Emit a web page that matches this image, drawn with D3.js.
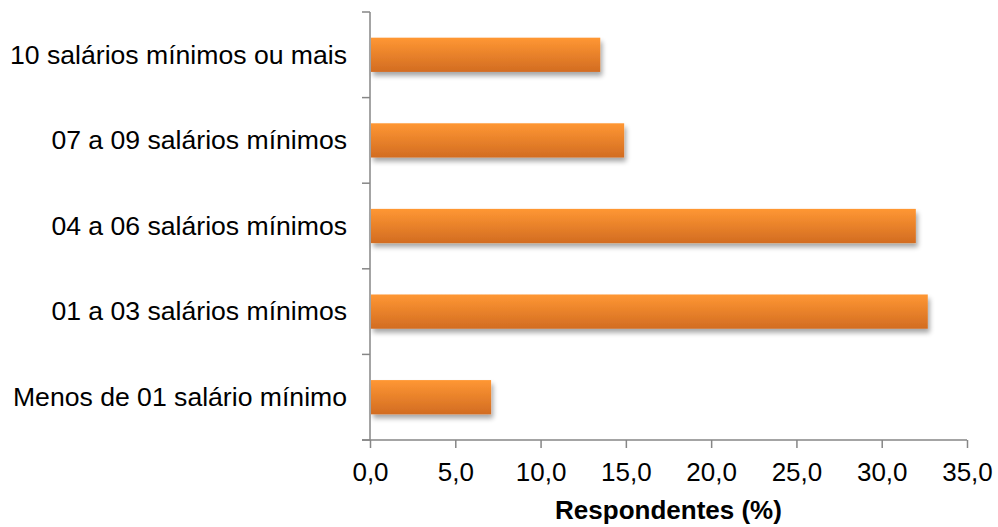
<!DOCTYPE html>
<html>
<head>
<meta charset="utf-8">
<script src="https://cdn.jsdelivr.net/npm/d3@7"></script>
<style>
  body { margin: 0; background: #fff; }
  svg { display: block; }
  text { font-family: "Liberation Sans", Arial, sans-serif; fill: #000; }
</style>
</head>
<body>
<svg id="chart" width="998" height="527"></svg>
<script>
// Income bands, top to bottom
const categories = [
  "10 salários mínimos ou mais",
  "07 a 09 salários mínimos",
  "04 a 06 salários mínimos",
  "01 a 03 salários mínimos",
  "Menos de 01 salário mínimo"
];
const values = [13.5, 14.9, 32.0, 32.7, 7.1];
const xTicks = [0, 5, 10, 15, 20, 25, 30, 35];
const xTitle = "Respondentes (%)";

const svg = d3.select("#chart");
const margin = { left: 370, right: 31, top: 12, bottom: 87 };
const W = 998, H = 527;
const fontSize = "26px";

const x = d3.scaleLinear().domain([0, 35]).range([margin.left, W - margin.right]);
const y = d3.scaleBand().domain(categories)
  .range([margin.top, H - margin.bottom]).paddingInner(0.6).paddingOuter(0.3);

const defs = svg.append("defs");
const grad = defs.append("linearGradient").attr("id", "barGrad")
  .attr("x1", 0).attr("y1", 0).attr("x2", 0).attr("y2", 1);
grad.append("stop").attr("offset", "0%").attr("stop-color", "#ff9733");
grad.append("stop").attr("offset", "100%").attr("stop-color", "#d26c22");

const shadow = defs.append("filter").attr("id", "shadow")
  .attr("x", "-10%").attr("y", "-30%").attr("width", "130%").attr("height", "180%");
shadow.append("feGaussianBlur").attr("in", "SourceAlpha").attr("stdDeviation", 2.5);
shadow.append("feOffset").attr("dx", 2).attr("dy", 4).attr("result", "off");
shadow.append("feComponentTransfer").append("feFuncA").attr("type", "linear").attr("slope", 0.35);
const merge = shadow.append("feMerge");
merge.append("feMergeNode");
merge.append("feMergeNode").attr("in", "SourceGraphic");

// Bars
svg.append("g").selectAll("rect").data(values).join("rect")
  .attr("x", x(0) + 1)
  .attr("y", (d, i) => y(categories[i]))
  .attr("width", d => x(d) - x(0) - 1)
  .attr("height", y.bandwidth())
  .attr("fill", "url(#barGrad)")
  .attr("filter", "url(#shadow)");

const axisColor = "#868686";
const y0 = H - margin.bottom;

// Category axis with ticks at band boundaries
const yAxis = svg.append("g");
yAxis.append("line").attr("x1", x(0)).attr("x2", x(0))
  .attr("y1", margin.top).attr("y2", y0)
  .attr("stroke", axisColor).attr("stroke-width", 1.5);
const bounds = d3.range(categories.length + 1).map(i => margin.top + i * (y0 - margin.top) / categories.length);
yAxis.selectAll("line.tk").data(bounds).join("line").attr("class", "tk")
  .attr("x1", x(0) - 8).attr("x2", x(0)).attr("y1", d => d).attr("y2", d => d)
  .attr("stroke", axisColor).attr("stroke-width", 1.5);
yAxis.selectAll("text").data(categories).join("text")
  .attr("x", x(0) - 23)
  .attr("y", d => y(d) + y.bandwidth() / 2)
  .attr("dy", "0.33em")
  .attr("text-anchor", "end")
  .style("font-size", "26.6px")
  .text(d => d);

// Value axis
const xAxis = svg.append("g").attr("transform", `translate(0,${y0})`)
  .call(d3.axisBottom(x).tickValues(xTicks).tickSize(8).tickPadding(8)
    .tickFormat(d => d3.format(".1f")(d).replace(".", ",")));
xAxis.select(".domain").attr("stroke", axisColor).attr("stroke-width", 1.5)
  .attr("d", `M${x(0) - 8},0H${x(35)}`);
xAxis.selectAll(".tick line").attr("stroke", axisColor).attr("stroke-width", 1.5);
xAxis.selectAll(".tick text")
  .attr("y", 41).attr("dy", null)
  .style("font-size", fontSize)
  .style("font-family", "Liberation Sans, Arial, sans-serif").attr("fill", "#000");

svg.append("text")
  .attr("x", (x(0) + x(35)) / 2)
  .attr("y", 519)
  .attr("text-anchor", "middle")
  .style("font-size", fontSize)
  .style("font-weight", "bold")
  .text(xTitle);
</script>
</body>
</html>
